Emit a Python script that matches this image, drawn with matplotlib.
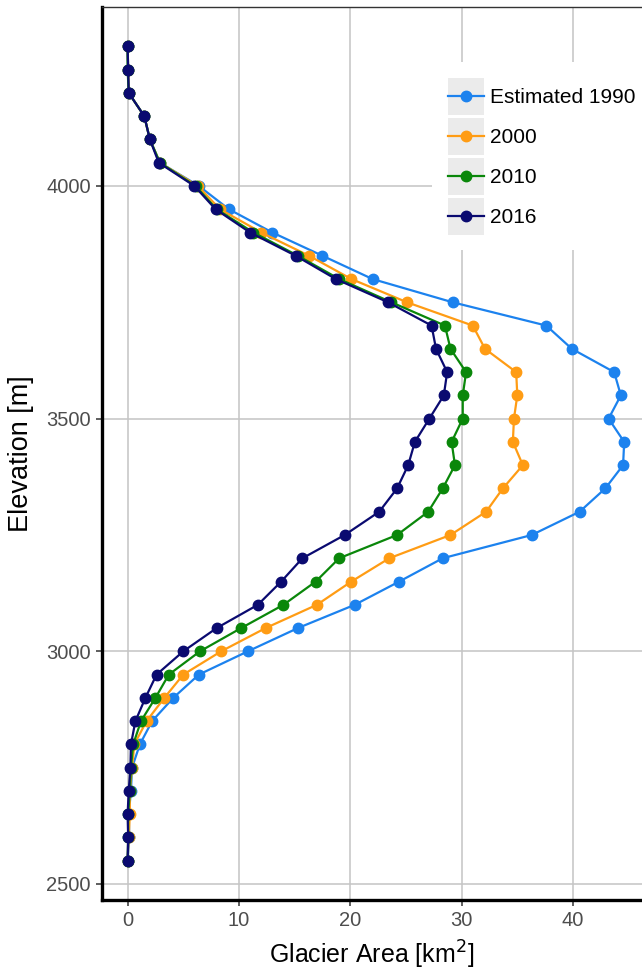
# Glacier area by elevation band, one line per year (ggplot-like look).
import matplotlib.pyplot as plt
from matplotlib.legend_handler import HandlerLine2D
from matplotlib.patches import Rectangle
import numpy as np

plt.rcParams["font.family"] = ["Liberation Sans", "DejaVu Sans"]

elevation = np.arange(2550, 4301, 50)

area_1990 = [0.0, 0.15, 0.1, 0.3, 0.4, 1.1, 2.2, 4.1, 6.4, 10.8, 15.3, 20.4, 24.4, 28.3,
             36.3, 40.6, 42.9, 44.5, 44.6, 43.2, 44.3, 43.7, 39.9, 37.6, 29.2, 22.0,
             17.5, 13.0, 9.1, 6.4, 2.9, 2.0, 1.5, 0.1, 0.05, 0.0]
area_2000 = [0.0, 0.1, 0.2, 0.2, 0.4, 0.6, 1.7, 3.3, 5.0, 8.4, 12.4, 17.0, 20.1, 23.5,
             29.0, 32.2, 33.7, 35.5, 34.6, 34.7, 35.0, 34.9, 32.1, 31.0, 25.1, 20.1,
             16.3, 12.0, 8.3, 6.3, 2.9, 2.0, 1.5, 0.1, 0.05, 0.0]
area_2010 = [0.0, 0.05, 0.05, 0.2, 0.3, 0.5, 1.2, 2.5, 3.7, 6.5, 10.2, 14.0, 16.9, 19.0,
             24.2, 27.0, 28.3, 29.4, 29.1, 30.1, 30.1, 30.4, 29.0, 28.5, 23.7, 19.0,
             15.3, 11.3, 8.0, 6.1, 2.9, 2.0, 1.5, 0.1, 0.0, 0.0]
area_2016 = [0.0, 0.05, 0.0, 0.1, 0.25, 0.3, 0.7, 1.6, 2.6, 5.0, 8.0, 11.7, 13.8, 15.7,
             19.5, 22.6, 24.2, 25.2, 25.8, 27.1, 28.4, 28.7, 27.7, 27.3, 23.4, 18.7,
             15.1, 11.0, 7.9, 6.0, 2.8, 2.0, 1.5, 0.1, 0.05, 0.0]

labels = ["Estimated 1990", "2000", "2010", "2016"]
colors = ["#1C82EE", "#FF9C14", "#0A870A", "#0A0A70"]


class KeyHandler(HandlerLine2D):
    # grey key background like ggplot legends, line centred in the key
    def create_artists(self, legend, orig_handle, xdescent, ydescent, width, height, fontsize, trans):
        arts = super().create_artists(legend, orig_handle, xdescent, ydescent, width, height, fontsize, trans)
        yc = height / 2 - ydescent
        for a in arts:
            a.set_ydata(np.full(len(a.get_xdata()), yc))
        bg = Rectangle((-xdescent, -ydescent), width, height, facecolor="#EBEBEB",
                       edgecolor="none", transform=trans)
        return [bg] + list(arts)


fig = plt.figure(figsize=(6.42, 9.71), dpi=100)
ax = fig.add_axes([102 / 642, 1 - 900 / 971, 1 - 102 / 642, (900 - 7) / 971])

for vals, lab, c in zip([area_1990, area_2000, area_2010, area_2016], labels, colors):
    ax.plot(vals, elevation, color=c, lw=1.6, marker="o", markersize=7.5, label=lab, zorder=3)

ax.set_xlim(-2.3, 46.2)
ax.set_ylim(2465.6, 4384.6)
ax.set_xticks([0, 10, 20, 30, 40])
ax.set_yticks([2500, 3000, 3500, 4000])
ax.grid(True, color="#C4C4C4", lw=1.1)
ax.set_axisbelow(True)

for s in ["left", "bottom"]:
    ax.spines[s].set_linewidth(2.4)
    ax.spines[s].set_color("black")
ax.spines["right"].set_visible(False)
ax.spines["top"].set_color("#333333")
ax.spines["top"].set_linewidth(1.0)

ax.tick_params(axis="both", length=4, width=1.1, color="#333333", labelcolor="#4D4D4D",
               labelsize=14.5, pad=4)
ax.set_xlabel("Glacier Area [km$^2$]", fontsize=18, labelpad=6)
ax.set_ylabel("Elevation [m]", fontsize=19.5, labelpad=9)

leg = ax.legend(loc="upper left", bbox_to_anchor=(432 / 642, 1 - 62 / 971),
                bbox_transform=fig.transFigure, fontsize=15, frameon=True,
                handlelength=1.75, handleheight=2.35, labelspacing=0.15,
                handletextpad=0.3, borderpad=0.75, borderaxespad=0,
                handler_map={plt.Line2D: KeyHandler()})
leg.get_frame().set_facecolor("white")
leg.get_frame().set_edgecolor("none")
leg.get_frame().set_alpha(1)
leg.get_frame().set_boxstyle("square", pad=0)

fig.savefig("out.png", dpi=100)
